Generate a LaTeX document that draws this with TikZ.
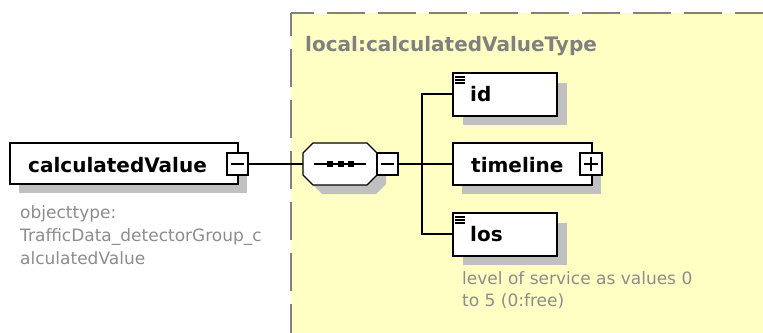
\documentclass[tikz,border=0pt]{standalone}
\usepackage{fontspec}
\setmainfont{DejaVu Sans}
\definecolor{panel}{RGB}{255,255,196}
\definecolor{shadowgray}{RGB}{192,192,192}
\definecolor{desc}{RGB}{128,128,128}
\definecolor{desclight}{RGB}{140,140,140}
\tikzset{
  elbox/.style={draw=black, line width=1.4pt, fill=white},
  shadowbox/.style={fill=shadowgray, draw=none},
  lbl/.style={anchor=base west, inner sep=0pt, font=\fontsize{20}{24}\selectfont\bfseries},
  desctext/.style={anchor=base west, inner sep=0pt, text=desclight, font=\fontsize{17}{23}\selectfont},
  conn/.style={draw=black, line width=1.4pt},
  border/.style={draw=desc, line width=1.8pt, dash pattern=on 38pt off 13pt, dash phase=15pt}
}
\begin{document}
\begin{tikzpicture}[x=1pt,y=-1pt]
\useasboundingbox (0,0) rectangle (763,332);
% panel
\fill[panel] (291,13) rectangle (770,340);
\draw[border] (291,13) -- (770,13);
\draw[border] (291,13) -- (291,340);
\node[anchor=base west, inner sep=0pt, text=desc, font=\fontsize{20}{24}\selectfont\bfseries] (title) at (305,51) {local:calculatedValueType};

% calculatedValue
\fill[shadowbox] (19,152) rectangle (247,193);
\draw[elbox] (10,143) rectangle (238,184);
\node[lbl] (cv) at (28,172) {calculatedValue};
\draw[elbox, line width=1.2pt] (227,153) rectangle (248,175);
\coordinate (cvm) at (248,164);
\draw[line width=1.2pt] (231,164) -- (244,164);
\node[desctext] (d1) at (20,218) {objecttype:};
\node[desctext] (d2) at (20,241) {TrafficData\_detectorGroup\_c};
\node[desctext] (d3) at (20,264) {alculatedValue};

% sequence octagon
\fill[shadowbox] (322,152) -- (376,152) -- (386,162) -- (386,184) -- (376,194) -- (322,194) -- (312,184) -- (312,162) -- cycle;
\draw[elbox] (313,143) -- (367,143) -- (377,153) -- (377,175) -- (367,185) -- (313,185) -- (303,175) -- (303,153) -- cycle;
\coordinate (seqL) at (303,164);
\draw[line width=1.4pt] (314,164) -- (366,164);
\foreach \xx in {330,340.5,351} \fill (\xx-3,161) rectangle (\xx+3,167);
\draw[elbox, line width=1.2pt] (377,153) rectangle (398,175);
\coordinate (seqR) at (398,164);
\draw[line width=1.2pt] (381,164) -- (394,164);

% id
\fill[shadowbox] (463,83) rectangle (567,125);
\draw[elbox] (453,73) rectangle (557,116);
\coordinate (idL) at (453,94);
\node[lbl] (id) at (470,101) {id};
\foreach \yy in {77,80,83} \draw[line width=1.2pt] (455,\yy) -- (465,\yy);

% timeline
\fill[shadowbox] (462,152) rectangle (601,194);
\draw[elbox] (453,143) rectangle (592,185);
\coordinate (tlL) at (453,164);
\node[lbl] (tl) at (471,172) {timeline};
\draw[elbox, line width=1.2pt] (580,153) rectangle (602,175);
\draw[line width=1.2pt] (584,164) -- (598,164) (591,157) -- (591,171);

% los
\fill[shadowbox] (463,223) rectangle (567,265);
\draw[elbox] (453,213) rectangle (557,256);
\coordinate (losL) at (453,234);
\node[lbl] (los) at (470,241) {los};
\foreach \yy in {217,220,223} \draw[line width=1.2pt] (455,\yy) -- (465,\yy);
\node[desctext] (l1) at (462,284) {level of service as values 0};
\node[desctext] (l2) at (462,306) {to 5 (0:free)};

% connectors
\draw[conn] (cvm) -- (seqL);
\draw[conn] (seqR) -- (tlL);
\draw[conn] (idL) -- (422,94) -- (422,234) -- (losL);
\end{tikzpicture}
\end{document}
